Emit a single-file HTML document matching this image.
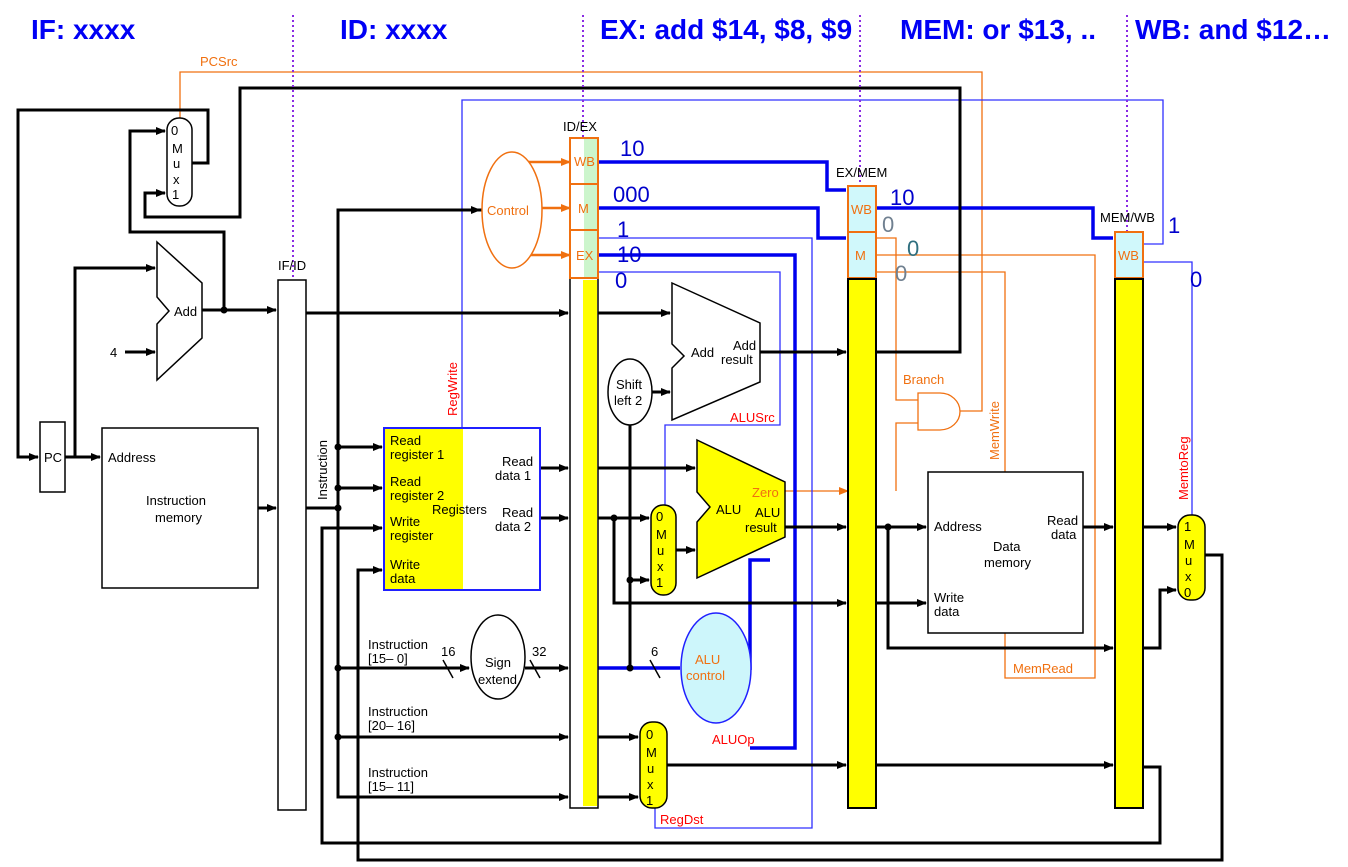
<!DOCTYPE html>
<html><head><meta charset="utf-8"><style>
html,body{margin:0;padding:0;background:#fff;}
svg{display:block;font-family:"Liberation Sans",Arial,sans-serif;}
</style></head><body>
<svg width="1348" height="867" viewBox="0 0 1348 867" xmlns="http://www.w3.org/2000/svg">
<defs>
<marker id="a" markerWidth="10" markerHeight="8" refX="9" refY="4" orient="auto" markerUnits="userSpaceOnUse"><path d="M0,0 L10,4 L0,8 z" fill="#000"/></marker>
<marker id="ao" markerWidth="10" markerHeight="8" refX="9" refY="4" orient="auto" markerUnits="userSpaceOnUse"><path d="M0,0 L10,4 L0,8 z" fill="#f07010"/></marker>
</defs>

<!-- titles -->
<g font-weight="bold" font-size="28" fill="#0000f5">
<text x="31" y="39">IF: xxxx</text>
<text x="340" y="39">ID: xxxx</text>
<text x="600" y="39">EX: add $14, $8, $9</text>
<text x="900" y="39">MEM: or $13, ..</text>
<text x="1135" y="39">WB: and $12…</text>
</g>

<!-- orange control lines -->
<g stroke="#f07010" stroke-width="1.3" fill="none">
<polyline points="180,118 180,72 982,72 982,411 960,411"/>
<polyline points="876,238 896,238 896,400 918,400"/>
<polyline points="918,423 896,423 896,491"/>
<polyline points="876,255 1095,255 1095,678 1005,678 1005,633"/>
<polyline points="876,272 1005,272 1005,472"/>
<line x1="785" y1="491" x2="848" y2="491" marker-end="url(#ao)"/>
<path d="M918,393 L940,393 A20,18.5 0 0 1 940,430 L918,430 Z"/>
</g>
<g stroke="#f07010" stroke-width="2.5">
<line x1="528" y1="162" x2="570" y2="162" marker-end="url(#ao)"/>
<line x1="540" y1="208" x2="570" y2="208" marker-end="url(#ao)"/>
<line x1="528" y1="255" x2="570" y2="255" marker-end="url(#ao)"/>
</g>

<!-- thin blue lines -->
<g stroke="#3030ff" stroke-width="1.3" fill="none">
<polyline points="1143,244 1163,244 1163,100 462,100 462,428"/>
<polyline points="1143,262 1192,262 1192,515"/>
<polyline points="598,238 812,238 812,828 655,828 655,808"/>
<polyline points="598,272 780,272 780,425 665,425 665,505"/>
</g>
<!-- thick blue lines -->
<g stroke="#0000ee" stroke-width="3.5" fill="none">
<polyline points="598,162 827,162 827,190 846,190"/>
<polyline points="598,208 818,208 818,238 846,238"/>
<polyline points="876,208 1093,208 1093,238 1113,238"/>
<polyline points="598,255 795,255 795,748 750,748"/>
<polyline points="750,668 750,670 750,560 770,560"/>
<line x1="598" y1="668" x2="680" y2="668"/>
</g>

<!-- black lines -->
<g stroke="#000" stroke-width="3" fill="none">
<polyline points="192,163 208,163 208,110 18,110 18,457 38,457" marker-end="url(#a)"/>
<line x1="65" y1="457" x2="100" y2="457" marker-end="url(#a)"/>
<polyline points="75,457 75,268 155,268" marker-end="url(#a)"/>
<line x1="125" y1="352" x2="155" y2="352" marker-end="url(#a)"/>
<line x1="202" y1="310" x2="276" y2="310" marker-end="url(#a)"/>
<polyline points="224,310 224,232 130,232 130,131 165,131" marker-end="url(#a)"/>
<polyline points="876,352 960,352 960,88 240,88 240,217 145,217 145,193 165,193" marker-end="url(#a)"/>
<line x1="258" y1="508" x2="276" y2="508" marker-end="url(#a)"/>
<line x1="306" y1="313" x2="568" y2="313" marker-end="url(#a)"/>
<polyline points="306,508 338,508"/>
<polyline points="482,210 338,210 338,797 568,797" marker-end="url(#a)"/>
<line x1="338" y1="210" x2="480" y2="210" marker-end="url(#a)"/>
<line x1="338" y1="447" x2="382" y2="447" marker-end="url(#a)"/>
<line x1="338" y1="488" x2="382" y2="488" marker-end="url(#a)"/>
<polyline points="1143,767 1160,767 1160,843 322,843 322,528 382,528" marker-end="url(#a)"/>
<polyline points="1205,555 1222,555 1222,860 358,860 358,570 382,570" marker-end="url(#a)"/>
<line x1="338" y1="668" x2="469" y2="668" marker-end="url(#a)"/>
<line x1="525" y1="668" x2="568" y2="668" marker-end="url(#a)"/>
<line x1="338" y1="737" x2="568" y2="737" marker-end="url(#a)"/>
<line x1="540" y1="468" x2="568" y2="468" marker-end="url(#a)"/>
<line x1="540" y1="518" x2="568" y2="518" marker-end="url(#a)"/>
<line x1="598" y1="313" x2="670" y2="313" marker-end="url(#a)"/>
<line x1="598" y1="468" x2="695" y2="468" marker-end="url(#a)"/>
<line x1="598" y1="518" x2="649" y2="518" marker-end="url(#a)"/>
<polyline points="614,518 614,603 846,603" marker-end="url(#a)"/>
<line x1="876" y1="603" x2="926" y2="603" marker-end="url(#a)"/>
<polyline points="630,425 630,668"/>
<line x1="630" y1="580" x2="649" y2="580" marker-end="url(#a)"/>
<line x1="652" y1="392" x2="670" y2="392" marker-end="url(#a)"/>
<line x1="676" y1="550" x2="695" y2="550" marker-end="url(#a)"/>
<line x1="760" y1="352" x2="846" y2="352" marker-end="url(#a)"/>
<line x1="785" y1="527" x2="846" y2="527" marker-end="url(#a)"/>
<line x1="876" y1="527" x2="926" y2="527" marker-end="url(#a)"/>
<polyline points="888,527 888,648 1113,648" marker-end="url(#a)"/>
<line x1="1083" y1="527" x2="1113" y2="527" marker-end="url(#a)"/>
<line x1="1143" y1="527" x2="1176" y2="527" marker-end="url(#a)"/>
<polyline points="1143,648 1160,648 1160,590 1176,590" marker-end="url(#a)"/>
<line x1="598" y1="737" x2="638" y2="737" marker-end="url(#a)"/>
<line x1="598" y1="797" x2="638" y2="797" marker-end="url(#a)"/>
<line x1="667" y1="765" x2="846" y2="765" marker-end="url(#a)"/>
<line x1="876" y1="765" x2="1113" y2="765" marker-end="url(#a)"/>
</g>
<g fill="#000">
<circle cx="224" cy="310" r="3.5"/><circle cx="338" cy="447" r="3.5"/><circle cx="338" cy="488" r="3.5"/>
<circle cx="338" cy="508" r="3.5"/><circle cx="338" cy="668" r="3.5"/><circle cx="338" cy="737" r="3.5"/>
<circle cx="614" cy="518" r="3.5"/><circle cx="630" cy="668" r="3.5"/><circle cx="630" cy="580" r="3.5"/>
<circle cx="888" cy="527" r="3.5"/>
</g>
<g stroke="#000" stroke-width="1.5">
<line x1="443" y1="660" x2="453" y2="678"/><line x1="530" y1="660" x2="540" y2="678"/><line x1="650" y1="660" x2="660" y2="678"/>
</g>

<!-- purple dotted -->
<g stroke="#8a2be2" stroke-width="2" stroke-dasharray="2,3">
<line x1="293" y1="15" x2="293" y2="285"/>
<line x1="583" y1="15" x2="583" y2="140"/>
<line x1="860" y1="15" x2="860" y2="190"/>
<line x1="1127" y1="15" x2="1127" y2="236"/>
</g>

<!-- blocks -->
<g stroke="#000" stroke-width="1.5">
<rect x="40" y="422" width="25" height="70" fill="#fff"/>
<rect x="102" y="428" width="156" height="160" fill="#fff"/>
<rect x="278" y="280" width="28" height="530" fill="#fff"/>
<rect x="167" y="118" width="25" height="88" rx="12" fill="#fff"/>
<rect x="928" y="472" width="155" height="161" fill="#fff"/>
<path d="M672,283 L760,323 L760,382 L672,420 L672,368 L684,356 L672,344 Z" fill="#fff"/>
<ellipse cx="630" cy="392" rx="22" ry="33" fill="#fff"/>
<ellipse cx="498" cy="657" rx="27" ry="42" fill="#fff"/>
<path d="M157,242 L202,283 L202,338 L157,380 L157,324 L169,311 L157,297 Z" fill="#fff"/>
</g>

<!-- registers -->
<rect x="384" y="428" width="156" height="162" fill="#fff" stroke="#2020ff" stroke-width="2"/>
<rect x="385" y="429" width="78" height="160" fill="#ffff00"/>
<!-- ALU -->
<path d="M697,440 L785,482 L785,537 L697,578 L697,522 L710,507 L697,492 Z" fill="#ffff00" stroke="#000" stroke-width="1.5"/>
<rect x="651" y="505" width="25" height="90" rx="12" fill="#ffff00" stroke="#000" stroke-width="1.5"/>
<rect x="640" y="722" width="27" height="86" rx="12" fill="#ffff00" stroke="#000" stroke-width="1.5"/>
<rect x="1178" y="515" width="27" height="85" rx="12" fill="#ffff00" stroke="#000" stroke-width="1.5"/>
<ellipse cx="716" cy="668" rx="35" ry="55" fill="#cdf6fb" stroke="#2020ff" stroke-width="1.5"/>
<ellipse cx="512" cy="210" rx="30" ry="58" fill="#fff" stroke="#f07010" stroke-width="1.5"/>

<!-- ID/EX -->
<rect x="570" y="278" width="28" height="530" fill="#fff" stroke="#000" stroke-width="1.5"/>
<rect x="583" y="280" width="14" height="526" fill="#ffff00"/>
<rect x="584" y="138" width="14" height="140" fill="#ccf5cc"/>
<g fill="none" stroke="#f07010" stroke-width="2">
<rect x="570" y="138" width="28" height="46"/><rect x="570" y="184" width="28" height="46"/><rect x="570" y="230" width="28" height="48"/>
</g>
<!-- EX/MEM -->
<rect x="848" y="186" width="28" height="92" fill="#d0f8fb"/>
<g fill="none" stroke="#f07010" stroke-width="2"><rect x="848" y="186" width="28" height="46"/><rect x="848" y="232" width="28" height="46"/></g>
<rect x="848" y="279" width="28" height="529" fill="#ffff00" stroke="#000" stroke-width="2"/>
<!-- MEM/WB -->
<rect x="1115" y="232" width="28" height="46" fill="#d0f8fb" stroke="#f07010" stroke-width="2"/>
<rect x="1115" y="279" width="28" height="529" fill="#ffff00" stroke="#000" stroke-width="2"/>

<!-- texts -->
<g font-size="13" fill="#000">
<text x="44" y="462">PC</text>
<text x="108" y="462">Address</text>
<text x="146" y="505">Instruction</text><text x="155" y="522">memory</text>
<text x="174" y="316">Add</text>
<text x="110" y="357">4</text>
<text x="278" y="270">IF/ID</text>
<text x="563" y="131">ID/EX</text>
<text x="836" y="177">EX/MEM</text>
<text x="1100" y="222">MEM/WB</text>
<text x="171" y="135">0</text><text x="172" y="153">M</text><text x="173" y="168">u</text><text x="173" y="184">x</text><text x="172" y="199">1</text>
<text transform="translate(327,500) rotate(-90)">Instruction</text>
<text x="390" y="445">Read</text><text x="390" y="459">register 1</text>
<text x="390" y="486">Read</text><text x="390" y="500">register 2</text>
<text x="390" y="526">Write</text><text x="390" y="540">register</text>
<text x="390" y="569">Write</text><text x="390" y="583">data</text>
<text x="432" y="514">Registers</text>
<text x="502" y="466">Read</text><text x="495" y="480">data 1</text>
<text x="502" y="517">Read</text><text x="495" y="531">data 2</text>
<text x="368" y="649">Instruction</text><text x="368" y="663">[15– 0]</text>
<text x="368" y="716">Instruction</text><text x="368" y="730">[20– 16]</text>
<text x="368" y="777">Instruction</text><text x="368" y="791">[15– 11]</text>
<text x="441" y="656">16</text><text x="532" y="656">32</text><text x="651" y="656">6</text>
<text x="485" y="667">Sign</text><text x="478" y="684">extend</text>
<text x="616" y="389">Shift</text><text x="614" y="405">left 2</text>
<text x="691" y="357">Add</text><text x="733" y="350">Add</text><text x="721" y="364">result</text>
<text x="716" y="514">ALU</text><text x="755" y="517">ALU</text><text x="745" y="532">result</text>
<text x="656" y="521">0</text><text x="656" y="539">M</text><text x="657" y="555">u</text><text x="657" y="571">x</text><text x="656" y="587">1</text>
<text x="646" y="739">0</text><text x="646" y="757">M</text><text x="647" y="773">u</text><text x="647" y="789">x</text><text x="646" y="805">1</text>
<text x="1184" y="531">1</text><text x="1184" y="549">M</text><text x="1185" y="565">u</text><text x="1185" y="581">x</text><text x="1184" y="597">0</text>
<text x="934" y="531">Address</text>
<text x="993" y="551">Data</text><text x="984" y="567">memory</text>
<text x="1047" y="525">Read</text><text x="1051" y="539">data</text>
<text x="934" y="602">Write</text><text x="934" y="616">data</text>
</g>
<g font-size="13" fill="#f07010">
<text x="200" y="66">PCSrc</text>
<text x="487" y="215">Control</text>
<text x="574" y="166">WB</text><text x="578" y="213">M</text><text x="576" y="260">EX</text>
<text x="851" y="214">WB</text><text x="855" y="260">M</text>
<text x="1118" y="260">WB</text>
<text x="903" y="384">Branch</text>
<text x="1013" y="673">MemRead</text>
<text x="752" y="497">Zero</text>
<text x="695" y="664">ALU</text><text x="686" y="680">control</text>
<text transform="translate(999,460) rotate(-90)">MemWrite</text>
</g>
<g font-size="13" fill="#ff0000">
<text transform="translate(457,416) rotate(-90)">RegWrite</text>
<text x="730" y="422">ALUSrc</text>
<text x="712" y="744">ALUOp</text>
<text x="660" y="824">RegDst</text>
<text transform="translate(1188,500) rotate(-90)">MemtoReg</text>
</g>
<g font-size="22" fill="#0000cc">
<text x="620" y="156">10</text>
<text x="613" y="202">000</text>
<text x="617" y="237">1</text>
<text x="617" y="262">10</text>
<text x="615" y="288">0</text>
<text x="890" y="205">10</text>
<text x="1168" y="233">1</text>
<text x="1190" y="287">0</text>
</g>
<g font-size="22">
<text x="882" y="232" fill="#708090">0</text>
<text x="907" y="256" fill="#2f6f7f">0</text>
<text x="895" y="281" fill="#708090">0</text>
</g>
</svg>
</body></html>
